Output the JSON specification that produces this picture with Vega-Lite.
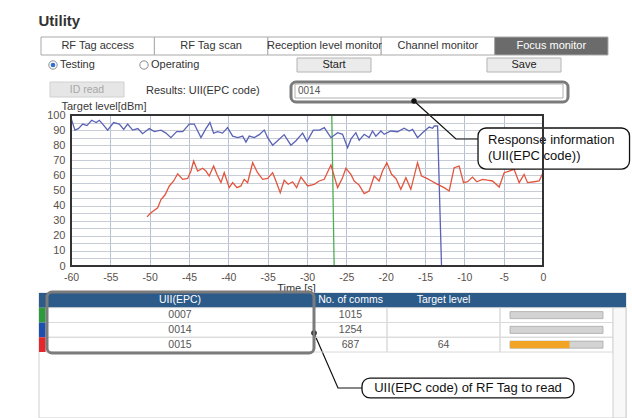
{
  "$schema": "https://vega.github.io/schema/vega-lite/v6.json",
  "background": "#ffffff",
  "padding": {"left": 38, "top": 13, "right": 0, "bottom": 0},
  "bounds": "flush",
  "spacing": 0,
  "config": {
    "view": {"stroke": null},
    "font": "Liberation Sans",
    "text": {"font": "Liberation Sans"},
    "axis": {"labelFont": "Liberation Sans", "titleFont": "Liberation Sans"},
    "title": {"font": "Liberation Sans"}
  },
  "title": {"text": "Utility", "anchor": "start", "fontSize": 15, "fontWeight": "bold", "color": "#333333", "offset": 8},
  "datasets": {
    "tabs": [
      {"tab": "RF Tag access", "active": false},
      {"tab": "RF Tag scan", "active": false},
      {"tab": "Reception level monitor", "active": false},
      {"tab": "Channel monitor", "active": false},
      {"tab": "Focus monitor", "active": true}
    ],
    "controls": [
      {"control": "Testing", "kind": "radio", "checked": true, "enabled": true},
      {"control": "Operating", "kind": "radio", "checked": false, "enabled": true},
      {"control": "Start", "kind": "button", "checked": false, "enabled": true},
      {"control": "Save", "kind": "button", "checked": false, "enabled": true},
      {"control": "ID read", "kind": "button", "checked": false, "enabled": false},
      {"control": "Results: UII(EPC code)", "kind": "label", "checked": false, "enabled": true},
      {"control": "0014", "kind": "field", "checked": false, "enabled": true}
    ],
    "tags": [
      {"uii": "0007", "comms": 1015, "level": null},
      {"uii": "0014", "comms": 1254, "level": null},
      {"uii": "0015", "comms": 687, "level": 64}
    ],
    "columns": [
      {"key": "uii", "title": "UII(EPC)"},
      {"key": "comms", "title": "No. of comms"},
      {"key": "level", "title": "Target level"}
    ],
    "calloutPaths": [
      {"callout": "response", "seq": 1, "t": -16.4, "level": 109.3},
      {"callout": "response", "seq": 2, "t": -11.06, "level": 84.1},
      {"callout": "response", "seq": 3, "t": -8.26, "level": 84.1},
      {"callout": "tag", "seq": 1, "t": -29.11, "level": -44.4},
      {"callout": "tag", "seq": 2, "t": -26.06, "level": -80.8},
      {"callout": "tag", "seq": 3, "t": -23.01, "level": -80.8}
    ],
    "calloutBoxes": [
      {"callout": "response", "text": "Response information\n(UII(EPC code))", "t1": -8.26, "t2": 11.0, "level1": 91.4, "level2": 64.2, "tText": -6.99, "levelText": 83.4},
      {"callout": "tag", "text": "UII(EPC code) of RF Tag to read", "t1": -23.01, "t2": 3.94, "level1": -74.2, "level2": -87.4, "tText": -9.53, "levelText": -80.8}
    ],
    "levels": [
      {"tag": "0007", "t": -60, "level": 100},
      {"tag": "0007", "t": -26.85, "level": 100},
      {"tag": "0007", "t": -26.55, "level": 0},
      {"tag": "0014", "t": -60, "level": 98},
      {"tag": "0014", "t": -59.5, "level": 90},
      {"tag": "0014", "t": -59.07, "level": 91},
      {"tag": "0014", "t": -58.5, "level": 94},
      {"tag": "0014", "t": -57.97, "level": 93},
      {"tag": "0014", "t": -57.37, "level": 96.5},
      {"tag": "0014", "t": -56.8, "level": 95},
      {"tag": "0014", "t": -56.4, "level": 96.5},
      {"tag": "0014", "t": -55.97, "level": 94},
      {"tag": "0014", "t": -55.34, "level": 90},
      {"tag": "0014", "t": -54.58, "level": 95},
      {"tag": "0014", "t": -53.86, "level": 94},
      {"tag": "0014", "t": -53.3, "level": 90.5},
      {"tag": "0014", "t": -52.8, "level": 94},
      {"tag": "0014", "t": -52.16, "level": 90},
      {"tag": "0014", "t": -51.5, "level": 91},
      {"tag": "0014", "t": -50.9, "level": 87.6},
      {"tag": "0014", "t": -50.05, "level": 91},
      {"tag": "0014", "t": -49.4, "level": 89},
      {"tag": "0014", "t": -48.56, "level": 90},
      {"tag": "0014", "t": -47.93, "level": 88},
      {"tag": "0014", "t": -47.3, "level": 85},
      {"tag": "0014", "t": -46.57, "level": 89},
      {"tag": "0014", "t": -45.8, "level": 89},
      {"tag": "0014", "t": -44.97, "level": 94},
      {"tag": "0014", "t": -44.33, "level": 94},
      {"tag": "0014", "t": -43.48, "level": 85},
      {"tag": "0014", "t": -42.85, "level": 91},
      {"tag": "0014", "t": -42.34, "level": 95},
      {"tag": "0014", "t": -41.87, "level": 88},
      {"tag": "0014", "t": -41.36, "level": 89},
      {"tag": "0014", "t": -40.73, "level": 88},
      {"tag": "0014", "t": -40.1, "level": 91.6},
      {"tag": "0014", "t": -39.45, "level": 86},
      {"tag": "0014", "t": -38.8, "level": 85},
      {"tag": "0014", "t": -38.18, "level": 86},
      {"tag": "0014", "t": -37.76, "level": 82},
      {"tag": "0014", "t": -37.34, "level": 86},
      {"tag": "0014", "t": -36.7, "level": 85},
      {"tag": "0014", "t": -36.07, "level": 87},
      {"tag": "0014", "t": -35.44, "level": 90},
      {"tag": "0014", "t": -35.0, "level": 85},
      {"tag": "0014", "t": -34.37, "level": 80},
      {"tag": "0014", "t": -33.74, "level": 83},
      {"tag": "0014", "t": -32.9, "level": 87},
      {"tag": "0014", "t": -32.05, "level": 80},
      {"tag": "0014", "t": -31.4, "level": 83},
      {"tag": "0014", "t": -30.56, "level": 88},
      {"tag": "0014", "t": -30.0, "level": 82.5},
      {"tag": "0014", "t": -29.2, "level": 90},
      {"tag": "0014", "t": -28.4, "level": 90},
      {"tag": "0014", "t": -27.8, "level": 91.6},
      {"tag": "0014", "t": -26.96, "level": 85},
      {"tag": "0014", "t": -26.1, "level": 88.3},
      {"tag": "0014", "t": -25.48, "level": 87.2},
      {"tag": "0014", "t": -24.84, "level": 78.4},
      {"tag": "0014", "t": -24.42, "level": 84},
      {"tag": "0014", "t": -23.79, "level": 88.3},
      {"tag": "0014", "t": -23.37, "level": 83.2},
      {"tag": "0014", "t": -22.73, "level": 87.2},
      {"tag": "0014", "t": -22.1, "level": 85},
      {"tag": "0014", "t": -21.67, "level": 89.4},
      {"tag": "0014", "t": -21.25, "level": 86},
      {"tag": "0014", "t": -20.6, "level": 89.4},
      {"tag": "0014", "t": -20.19, "level": 87.2},
      {"tag": "0014", "t": -19.34, "level": 89.4},
      {"tag": "0014", "t": -18.49, "level": 88.9},
      {"tag": "0014", "t": -17.65, "level": 91.2},
      {"tag": "0014", "t": -17.01, "level": 89.4},
      {"tag": "0014", "t": -16.58, "level": 90.5},
      {"tag": "0014", "t": -15.95, "level": 85},
      {"tag": "0014", "t": -15.31, "level": 88.3},
      {"tag": "0014", "t": -14.47, "level": 92},
      {"tag": "0014", "t": -14.04, "level": 91.2},
      {"tag": "0014", "t": -13.83, "level": 92.7},
      {"tag": "0014", "t": -13.4, "level": 92.7},
      {"tag": "0014", "t": -12.9, "level": 0},
      {"tag": "0015", "t": -50.34, "level": 32.5},
      {"tag": "0015", "t": -49.83, "level": 35.3},
      {"tag": "0015", "t": -48.98, "level": 38.6},
      {"tag": "0015", "t": -48.56, "level": 44},
      {"tag": "0015", "t": -48.06, "level": 47},
      {"tag": "0015", "t": -47.5, "level": 53},
      {"tag": "0015", "t": -46.95, "level": 56.3},
      {"tag": "0015", "t": -46.44, "level": 61.1},
      {"tag": "0015", "t": -45.8, "level": 57.4},
      {"tag": "0015", "t": -45.17, "level": 58},
      {"tag": "0015", "t": -44.75, "level": 62.9},
      {"tag": "0015", "t": -44.41, "level": 69.5},
      {"tag": "0015", "t": -43.9, "level": 62.9},
      {"tag": "0015", "t": -43.27, "level": 64.7},
      {"tag": "0015", "t": -42.85, "level": 62.9},
      {"tag": "0015", "t": -42.43, "level": 59.6},
      {"tag": "0015", "t": -41.87, "level": 66.2},
      {"tag": "0015", "t": -41.45, "level": 60.7},
      {"tag": "0015", "t": -40.94, "level": 55.2},
      {"tag": "0015", "t": -40.52, "level": 61.8},
      {"tag": "0015", "t": -39.89, "level": 51.9},
      {"tag": "0015", "t": -39.45, "level": 55.2},
      {"tag": "0015", "t": -38.9, "level": 51.9},
      {"tag": "0015", "t": -38.4, "level": 53},
      {"tag": "0015", "t": -37.98, "level": 57.4},
      {"tag": "0015", "t": -37.55, "level": 55.2},
      {"tag": "0015", "t": -36.91, "level": 68.4},
      {"tag": "0015", "t": -36.28, "level": 61.8},
      {"tag": "0015", "t": -35.64, "level": 57.4},
      {"tag": "0015", "t": -35.0, "level": 58},
      {"tag": "0015", "t": -34.37, "level": 61.8},
      {"tag": "0015", "t": -33.95, "level": 56.3},
      {"tag": "0015", "t": -33.4, "level": 48.5},
      {"tag": "0015", "t": -32.9, "level": 56.8},
      {"tag": "0015", "t": -32.39, "level": 54.1},
      {"tag": "0015", "t": -31.83, "level": 55.8},
      {"tag": "0015", "t": -31.32, "level": 51.9},
      {"tag": "0015", "t": -30.77, "level": 58.9},
      {"tag": "0015", "t": -29.92, "level": 53},
      {"tag": "0015", "t": -29.08, "level": 54.1},
      {"tag": "0015", "t": -28.45, "level": 56.3},
      {"tag": "0015", "t": -27.81, "level": 57.4},
      {"tag": "0015", "t": -26.96, "level": 66.9},
      {"tag": "0015", "t": -26.11, "level": 51.9},
      {"tag": "0015", "t": -25.48, "level": 58.5},
      {"tag": "0015", "t": -25.06, "level": 64.7},
      {"tag": "0015", "t": -24.42, "level": 60.7},
      {"tag": "0015", "t": -24.0, "level": 56.3},
      {"tag": "0015", "t": -23.37, "level": 53.6},
      {"tag": "0015", "t": -22.73, "level": 47.9},
      {"tag": "0015", "t": -22.1, "level": 49.7},
      {"tag": "0015", "t": -21.46, "level": 59.6},
      {"tag": "0015", "t": -20.83, "level": 56.3},
      {"tag": "0015", "t": -20.4, "level": 62.9},
      {"tag": "0015", "t": -19.85, "level": 68.4},
      {"tag": "0015", "t": -19.25, "level": 60.7},
      {"tag": "0015", "t": -18.7, "level": 58},
      {"tag": "0015", "t": -18.07, "level": 50.8},
      {"tag": "0015", "t": -17.43, "level": 58.5},
      {"tag": "0015", "t": -16.8, "level": 50.8},
      {"tag": "0015", "t": -15.95, "level": 68.4},
      {"tag": "0015", "t": -15.44, "level": 59.6},
      {"tag": "0015", "t": -14.77, "level": 58},
      {"tag": "0015", "t": -14.17, "level": 56.3},
      {"tag": "0015", "t": -13.4, "level": 54.1},
      {"tag": "0015", "t": -12.56, "level": 51.9},
      {"tag": "0015", "t": -11.93, "level": 49.7},
      {"tag": "0015", "t": -11.29, "level": 65.1},
      {"tag": "0015", "t": -10.66, "level": 66.2},
      {"tag": "0015", "t": -10.1, "level": 55.2},
      {"tag": "0015", "t": -9.59, "level": 55.8},
      {"tag": "0015", "t": -8.96, "level": 58.9},
      {"tag": "0015", "t": -8.41, "level": 55.8},
      {"tag": "0015", "t": -7.69, "level": 57.4},
      {"tag": "0015", "t": -7.05, "level": 56.8},
      {"tag": "0015", "t": -6.42, "level": 56.3},
      {"tag": "0015", "t": -5.57, "level": 52.3},
      {"tag": "0015", "t": -4.94, "level": 61.8},
      {"tag": "0015", "t": -4.3, "level": 62.9},
      {"tag": "0015", "t": -3.67, "level": 64},
      {"tag": "0015", "t": -3.03, "level": 55.2},
      {"tag": "0015", "t": -2.4, "level": 60.7},
      {"tag": "0015", "t": -1.97, "level": 55.2},
      {"tag": "0015", "t": -1.12, "level": 55.8},
      {"tag": "0015", "t": -0.49, "level": 56.3},
      {"tag": "0015", "t": 0, "level": 61.8}
    ]
  },
  "vconcat": [
    {
      "width": 569, "height": 18,
      "data": {"name": "tabs"},
      "encoding": {"x": {"field": "tab", "type": "nominal", "sort": null, "scale": {"range": [2, 569], "paddingInner": 0, "paddingOuter": 0}, "axis": null}},
      "layer": [
        {"mark": {"type": "rect", "stroke": "#a9a9a9", "strokeWidth": 1},
         "encoding": {"fill": {"condition": {"test": "datum.active", "value": "#6b6b6b"}, "value": "#ffffff"}}},
        {"mark": {"type": "text", "fontSize": 11},
         "encoding": {"text": {"field": "tab", "type": "nominal"}, "color": {"condition": {"test": "datum.active", "value": "#ffffff"}, "value": "#333333"}}}
      ]
    },
    {"width": 10, "height": 3, "data": {"values": []}, "mark": "point", "encoding": {}},
    {
      "width": 529, "height": 14,
      "data": {"name": "controls"},
      "resolve": {"scale": {"x": "independent"}},
      "layer": [
        {
          "transform": [{"filter": "datum.kind === 'radio'"}],
          "encoding": {"x": {"field": "control", "type": "nominal", "sort": null, "scale": {"type": "point", "range": [14, 105], "padding": 0, "align": 0}, "axis": null}},
          "layer": [
            {"mark": {"type": "point", "shape": "circle", "size": 70, "filled": true, "fill": "#ffffff", "stroke": "#8a8a8a", "strokeWidth": 1, "opacity": 1}, "encoding": {}},
            {"transform": [{"filter": "datum.checked"}], "mark": {"type": "point", "shape": "circle", "size": 22, "filled": true, "color": "#2f6fd0", "opacity": 1}, "encoding": {}},
            {"mark": {"type": "text", "align": "left", "dx": 7, "fontSize": 11, "color": "#333333"}, "encoding": {"text": {"field": "control", "type": "nominal"}}}
          ]
        },
        {
          "transform": [{"filter": "datum.kind === 'button' && datum.enabled"}],
          "encoding": {"x": {"field": "control", "type": "nominal", "sort": null, "scale": {"range": [258, 522], "paddingInner": 0.6105, "paddingOuter": 0}, "axis": null}},
          "layer": [
            {"mark": {"type": "rect", "fill": "#ebebeb", "stroke": "#b4b4b4", "strokeWidth": 1}, "encoding": {}},
            {"mark": {"type": "text", "fontSize": 11, "color": "#222222"}, "encoding": {"text": {"field": "control", "type": "nominal"}}}
          ]
        }
      ]
    },
    {"width": 10, "height": 10, "data": {"values": []}, "mark": "point", "encoding": {}},
    {
      "width": 529, "height": 20,
      "data": {"name": "controls"},
      "resolve": {"scale": {"x": "independent", "y": "independent"}},
      "layer": [
        {
          "transform": [{"filter": "datum.kind === 'button' && !datum.enabled"}],
          "encoding": {
            "x": {"field": "control", "type": "nominal", "scale": {"range": [11, 85], "paddingInner": 0, "paddingOuter": 0}, "axis": null},
            "y": {"field": "control", "type": "nominal", "scale": {"range": [0, 15], "paddingInner": 0, "paddingOuter": 0}, "axis": null}
          },
          "layer": [
            {"mark": {"type": "rect", "fill": "#e6e6e6", "stroke": "#d0d0d0", "strokeWidth": 1}, "encoding": {}},
            {"mark": {"type": "text", "fontSize": 10.5, "color": "#a8a8a8"}, "encoding": {"text": {"field": "control", "type": "nominal"}}}
          ]
        },
        {
          "transform": [{"filter": "datum.kind === 'label'"}],
          "mark": {"type": "text", "align": "left", "fontSize": 11, "color": "#333333"},
          "encoding": {
            "x": {"field": "control", "type": "nominal", "scale": {"type": "point", "range": [107, 250], "padding": 0, "align": 0}, "axis": null},
            "y": {"field": "control", "type": "nominal", "scale": {"range": [0, 18], "paddingInner": 0, "paddingOuter": 0}, "axis": null},
            "text": {"field": "control", "type": "nominal"}
          }
        },
        {
          "transform": [{"filter": "datum.kind === 'field'"}],
          "mark": {"type": "rect", "fill": "transparent", "stroke": "#7b7b7b", "strokeWidth": 3, "cornerRadius": 5},
          "encoding": {
            "x": {"field": "control", "type": "nominal", "scale": {"range": [252, 529], "paddingInner": 0, "paddingOuter": 0}, "axis": null},
            "y": {"field": "control", "type": "nominal", "scale": {"range": [0, 20], "paddingInner": 0, "paddingOuter": 0}, "axis": null}
          }
        },
        {
          "transform": [{"filter": "datum.kind === 'field'"}],
          "encoding": {
            "x": {"field": "control", "type": "nominal", "scale": {"range": [256, 524], "paddingInner": 0, "paddingOuter": 0}, "axis": null},
            "y": {"field": "control", "type": "nominal", "scale": {"range": [2, 16], "paddingInner": 0, "paddingOuter": 0}, "axis": null}
          },
          "layer": [
            {"mark": {"type": "rect", "fill": "#ffffff", "stroke": "#b0b0b0", "strokeWidth": 1}, "encoding": {}},
            {"mark": {"type": "text", "align": "left", "dx": 3, "fontSize": 10, "color": "#555555"},
             "encoding": {"x": {"field": "control", "type": "nominal", "bandPosition": 0}, "text": {"field": "control", "type": "nominal"}}}
          ]
        }
      ]
    },
    {"width": 10, "height": 13, "data": {"values": []}, "mark": "point", "encoding": {}},
    {
      "width": 504, "height": 151,
      "layer": [
        {
          "data": {"name": "levels"},
          "mark": {"type": "line", "strokeWidth": 1.3},
          "encoding": {
            "x": {"field": "t", "type": "quantitative",
              "scale": {"domain": [-60, 0], "range": [32, 504], "nice": false, "zero": false},
              "axis": {"values": [-60, -55, -50, -45, -40, -35, -30, -25, -20, -15, -10, -5, 0], "tickCount": 13,
                "labelExpr": "'' + datum.value",
                "grid": true, "gridColor": "#b5c2d5", "gridWidth": 1, "ticks": false, "domain": false,
                "labelFontSize": 10.5, "labelColor": "#5b504b", "labelPadding": 6, "labelFlush": false, "labelOverlap": false,
                "title": "Time [s]", "titleX": 257, "titleY": 25, "titleBaseline": "alphabetic",
                "titleFontSize": 11, "titleFontWeight": "normal", "titleColor": "#333333"}},
            "y": {"field": "level", "type": "quantitative",
              "scale": {"domain": [0, 100], "nice": false, "zero": false},
              "axis": {"values": [0, 5, 10, 15, 20, 25, 30, 35, 40, 45, 50, 55, 60, 65, 70, 75, 80, 85, 90, 95, 100], "tickCount": 21,
                "labelExpr": "datum.value % 10 === 0 ? '' + datum.value : ''",
                "offset": -32, "grid": true, "gridColor": "#c7ccd6", "gridWidth": 1, "ticks": false, "domain": false,
                "labelFontSize": 11, "labelColor": "#5b504b", "labelPadding": 6, "labelOverlap": false,
                "title": "Target level[dBm]", "titleAngle": 0, "titleX": -10, "titleY": -6, "titleAlign": "left",
                "titleBaseline": "alphabetic", "titleFontSize": 11, "titleFontWeight": "normal", "titleColor": "#3a3a3a"}},
            "color": {"field": "tag", "type": "nominal",
              "scale": {"domain": ["0007", "0014", "0015"], "range": ["#4caf50", "#5a62b5", "#e2553f"]}, "legend": null}
          }
        },
        {
          "data": {"name": "calloutPaths"},
          "mark": {"type": "line", "color": "#111111", "strokeWidth": 1.2},
          "encoding": {
            "x": {"field": "t", "type": "quantitative"},
            "y": {"field": "level", "type": "quantitative"},
            "detail": {"field": "callout", "type": "nominal"},
            "order": {"field": "seq", "type": "quantitative"}
          }
        },
        {
          "data": {"name": "calloutPaths"},
          "transform": [{"filter": "datum.seq === 1"}],
          "mark": {"type": "point", "shape": "circle", "filled": true, "size": 30, "color": "#111111", "opacity": 1},
          "encoding": {
            "x": {"field": "t", "type": "quantitative"},
            "y": {"field": "level", "type": "quantitative"}
          }
        },
        {
          "data": {"name": "calloutBoxes"},
          "mark": {"type": "rect", "fill": "#ffffff", "stroke": "#111111", "strokeWidth": 1.3, "cornerRadius": 8},
          "encoding": {
            "x": {"field": "t1", "type": "quantitative"},
            "x2": {"field": "t2"},
            "y": {"field": "level1", "type": "quantitative"},
            "y2": {"field": "level2"}
          }
        },
        {
          "data": {"name": "calloutBoxes"},
          "transform": [{"filter": "datum.callout === 'response'"}],
          "mark": {"type": "text", "align": "left", "baseline": "middle", "fontSize": 13, "lineBreak": "\n", "lineHeight": 16, "color": "#111111"},
          "encoding": {
            "x": {"field": "tText", "type": "quantitative"},
            "y": {"field": "levelText", "type": "quantitative"},
            "text": {"field": "text", "type": "nominal"}
          }
        },
        {
          "data": {"name": "calloutBoxes"},
          "transform": [{"filter": "datum.callout === 'tag'"}],
          "mark": {"type": "text", "align": "center", "baseline": "middle", "fontSize": 13, "color": "#111111"},
          "encoding": {
            "x": {"field": "tText", "type": "quantitative"},
            "y": {"field": "levelText", "type": "quantitative"},
            "text": {"field": "text", "type": "nominal"}
          }
        },
        {
          "data": {"name": "tags"},
          "transform": [{"aggregate": [{"op": "count", "as": "n"}]}],
          "mark": {"type": "rect", "fill": "transparent", "stroke": "#333333", "strokeWidth": 2},
          "encoding": {
            "x": {"datum": -60, "type": "quantitative"},
            "x2": {"datum": 0},
            "y": {"datum": 0, "type": "quantitative"},
            "y2": {"datum": 100}
          }
        }
      ]
    },
    {"width": 10, "height": 27, "data": {"values": []}, "mark": "point", "encoding": {}},
    {
      "width": 587, "height": 125,
      "resolve": {"scale": {"x": "independent", "y": "independent"}},
      "layer": [
        {
          "data": {"name": "columns"},
          "transform": [{"aggregate": [{"op": "count", "as": "n"}]}],
          "mark": {"type": "rect", "fill": "transparent", "stroke": "#cfcfcf", "strokeWidth": 1},
          "encoding": {
            "x": {"field": "n", "type": "nominal", "scale": {"range": [0, 587], "paddingInner": 0, "paddingOuter": 0}, "axis": null},
            "y": {"field": "n", "type": "nominal", "scale": {"range": [0, 125], "paddingInner": 0, "paddingOuter": 0}, "axis": null}
          }
        },
        {
          "data": {"name": "columns"},
          "transform": [{"aggregate": [{"op": "count", "as": "n"}]}],
          "mark": {"type": "rect", "fill": "#2c5b8a"},
          "encoding": {
            "x": {"field": "n", "type": "nominal", "scale": {"range": [0, 587], "paddingInner": 0, "paddingOuter": 0}, "axis": null},
            "y": {"field": "n", "type": "nominal", "scale": {"range": [0, 14.75], "paddingInner": 0, "paddingOuter": 0}, "axis": null}
          }
        },
        {
          "data": {"name": "tags"},
          "transform": [{"fold": ["uii"], "as": ["key", "value"]}],
          "mark": {"type": "rect"},
          "encoding": {
            "x": {"field": "key", "type": "nominal", "scale": {"range": [0, 7], "paddingInner": 0, "paddingOuter": 0}, "axis": null},
            "y": {"field": "uii", "type": "nominal", "scale": {"domain": ["title", "0007", "0014", "0015", "end"], "range": [0, 73.75], "paddingInner": 0, "paddingOuter": 0}, "axis": null},
            "fill": {"field": "uii", "type": "nominal", "scale": {"domain": ["0007", "0014", "0015"], "range": ["#2d9a3c", "#1e4fae", "#e5262a"]}, "legend": null}
          }
        },
        {
          "layer": [
            {"data": {"name": "columns"}, "transform": [{"filter": "datum.key === 'uii'"}, {"fold": ["title"], "as": ["row", "label"]}],
             "mark": {"type": "text", "fontSize": 10.5, "color": "#ffffff"},
             "encoding": {
               "x": {"field": "key", "type": "nominal", "scale": {"range": [7, 275], "paddingInner": 0, "paddingOuter": 0}, "axis": null},
               "y": {"field": "row", "type": "nominal", "scale": {"domain": ["title", "0007", "0014", "0015", "end"], "range": [0, 73.75], "paddingInner": 0, "paddingOuter": 0}, "axis": null},
               "text": {"field": "label", "type": "nominal"}}},
            {"data": {"name": "tags"}, "transform": [{"fold": ["uii"], "as": ["key", "value"]}],
             "mark": {"type": "rect", "fill": "transparent", "stroke": "#dadada", "strokeWidth": 1},
             "encoding": {"x": {"field": "key", "type": "nominal"}, "y": {"field": "uii", "type": "nominal"}}},
            {"data": {"name": "tags"}, "transform": [{"fold": ["uii"], "as": ["key", "value"]}],
             "mark": {"type": "text", "fontSize": 10.5, "color": "#555555"},
             "encoding": {"x": {"field": "key", "type": "nominal"}, "y": {"field": "uii", "type": "nominal"}, "text": {"field": "value", "type": "nominal"}}}
          ]
        },
        {
          "layer": [
            {"data": {"name": "columns"}, "transform": [{"filter": "datum.key === 'comms'"}, {"fold": ["title"], "as": ["row", "label"]}],
             "mark": {"type": "text", "fontSize": 10.5, "color": "#ffffff"},
             "encoding": {
               "x": {"field": "key", "type": "nominal", "scale": {"range": [275, 348], "paddingInner": 0, "paddingOuter": 0}, "axis": null},
               "y": {"field": "row", "type": "nominal", "scale": {"domain": ["title", "0007", "0014", "0015", "end"], "range": [0, 73.75], "paddingInner": 0, "paddingOuter": 0}, "axis": null},
               "text": {"field": "label", "type": "nominal"}}},
            {"data": {"name": "tags"}, "transform": [{"fold": ["comms"], "as": ["key", "value"]}],
             "mark": {"type": "rect", "fill": "transparent", "stroke": "#dadada", "strokeWidth": 1},
             "encoding": {"x": {"field": "key", "type": "nominal"}, "y": {"field": "uii", "type": "nominal"}}},
            {"data": {"name": "tags"}, "transform": [{"fold": ["comms"], "as": ["key", "value"]}],
             "mark": {"type": "text", "fontSize": 10.5, "color": "#555555"},
             "encoding": {"x": {"field": "key", "type": "nominal"}, "y": {"field": "uii", "type": "nominal"}, "text": {"field": "value", "type": "nominal"}}}
          ]
        },
        {
          "layer": [
            {"data": {"name": "columns"}, "transform": [{"filter": "datum.key === 'level'"}, {"fold": ["title"], "as": ["row", "label"]}],
             "mark": {"type": "text", "fontSize": 10.5, "color": "#ffffff"},
             "encoding": {
               "x": {"field": "key", "type": "nominal", "scale": {"range": [348, 461], "paddingInner": 0, "paddingOuter": 0}, "axis": null},
               "y": {"field": "row", "type": "nominal", "scale": {"domain": ["title", "0007", "0014", "0015", "end"], "range": [0, 73.75], "paddingInner": 0, "paddingOuter": 0}, "axis": null},
               "text": {"field": "label", "type": "nominal"}}},
            {"data": {"name": "tags"}, "transform": [{"fold": ["level"], "as": ["key", "value"]}],
             "mark": {"type": "rect", "fill": "transparent", "stroke": "#dadada", "strokeWidth": 1},
             "encoding": {"x": {"field": "key", "type": "nominal"}, "y": {"field": "uii", "type": "nominal"}}},
            {"data": {"name": "tags"}, "transform": [{"fold": ["level"], "as": ["key", "value"]}, {"filter": "datum.value != null"}],
             "mark": {"type": "text", "fontSize": 10.5, "color": "#555555"},
             "encoding": {"x": {"field": "key", "type": "nominal"}, "y": {"field": "uii", "type": "nominal"}, "text": {"field": "value", "type": "nominal"}}}
          ]
        },
        {
          "data": {"name": "tags"},
          "transform": [{"fold": ["level"], "as": ["key", "value"]}],
          "mark": {"type": "rect", "fill": "transparent", "stroke": "#dadada", "strokeWidth": 1},
          "encoding": {
            "x": {"field": "key", "type": "nominal", "scale": {"range": [461, 574], "paddingInner": 0, "paddingOuter": 0}, "axis": null},
            "y": {"field": "uii", "type": "nominal", "scale": {"domain": ["title", "0007", "0014", "0015", "end"], "range": [0, 73.75], "paddingInner": 0, "paddingOuter": 0}, "axis": null}
          }
        },
        {
          "data": {"name": "tags"},
          "transform": [{"fold": ["level"], "as": ["key", "value"]}],
          "mark": {"type": "rect", "fill": "#d3d3d3", "stroke": "#a9a9a9", "strokeWidth": 0.8},
          "encoding": {
            "x": {"field": "key", "type": "nominal", "scale": {"range": [471, 564], "paddingInner": 0, "paddingOuter": 0}, "axis": null},
            "y": {"field": "uii", "type": "nominal", "scale": {"domain": ["title", "0007", "0014", "0015", "end"], "range": [0, 73.75], "paddingInner": 0.525, "paddingOuter": 0.2625}, "axis": null}
          }
        },
        {
          "data": {"name": "tags"},
          "transform": [{"filter": "datum.level != null"}],
          "mark": {"type": "bar", "fill": "#f2a424"},
          "encoding": {
            "x": {"field": "level", "type": "quantitative", "stack": null, "scale": {"domain": [0, 100], "range": [471, 564], "nice": false, "zero": true}, "axis": null},
            "y": {"field": "uii", "type": "nominal", "scale": {"domain": ["title", "0007", "0014", "0015", "end"], "range": [0, 73.75], "paddingInner": 0.525, "paddingOuter": 0.2625}, "axis": null}
          }
        },
        {
          "data": {"name": "columns"},
          "transform": [{"filter": "datum.key === 'uii'"}],
          "mark": {"type": "rect", "fill": "transparent", "stroke": "#7b7b7b", "strokeWidth": 3, "cornerRadius": 5},
          "encoding": {
            "x": {"field": "key", "type": "nominal", "scale": {"range": [8, 275], "paddingInner": 0, "paddingOuter": 0}, "axis": null},
            "y": {"field": "key", "type": "nominal", "scale": {"range": [-1, 60], "paddingInner": 0, "paddingOuter": 0}, "axis": null}
          }
        },
        {
          "data": {"name": "columns"},
          "transform": [{"aggregate": [{"op": "count", "as": "n"}]}],
          "mark": {"type": "rect", "fill": "#f8f8f8", "stroke": "#d0d0d0", "strokeWidth": 1},
          "encoding": {
            "x": {"field": "n", "type": "nominal", "scale": {"range": [574, 587], "paddingInner": 0, "paddingOuter": 0}, "axis": null},
            "y": {"field": "n", "type": "nominal", "scale": {"range": [14.75, 125], "paddingInner": 0, "paddingOuter": 0}, "axis": null}
          }
        }
      ]
    }
  ]
}
